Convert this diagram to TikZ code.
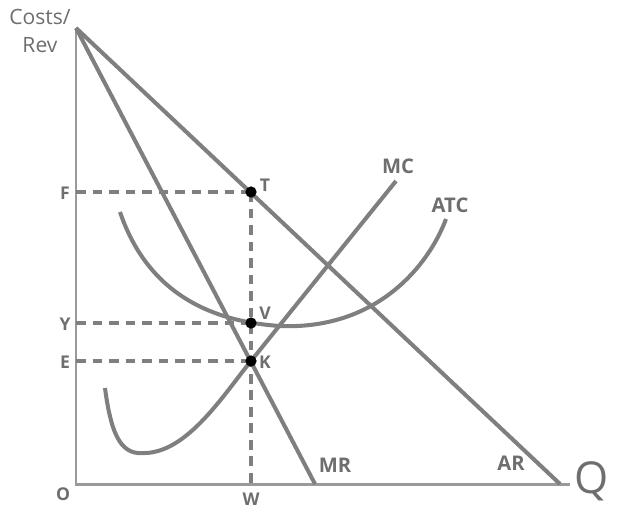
\documentclass[tikz,border=0pt]{standalone}
\usepackage{fontspec}
\setmainfont{Open Sans}
\usetikzlibrary{positioning,calc}
\definecolor{curvegray}{HTML}{7F7F7F}
\definecolor{axisgray}{HTML}{9A9A9A}
\definecolor{textgray}{HTML}{6E6E6E}
\tikzset{
  every picture/.style={line width=0.75pt},
  curve/.style={curvegray, line width=2.3pt},
  guide/.style={curvegray, line width=1.8pt, dash pattern=on 5.6pt off 3.8pt},
  dot/.style={circle, fill=black, inner sep=0pt, minimum size=6.4pt},
  ptlabel/.style={textgray, font=\fontsize{10}{11}\selectfont\bfseries, inner sep=1pt},
  crvlabel/.style={textgray, font=\fontsize{11.5}{12}\selectfont\bfseries, inner sep=1pt},
}

\begin{document}
\begin{tikzpicture}[x=0.02cm, y=-0.02cm]
    \useasboundingbox (0,0) rectangle (628,512);

    % Axes
    \coordinate (top) at (76,28);
    \coordinate (orig) at (76,484);
    \coordinate (qend) at (570,484);
    \draw[axisgray, line width=1.7pt] (top) -- (orig) -- (qend);
    \node[textgray, font=\fontsize{12}{15.5}\selectfont, align=center] (axy) at (40,31) {Costs/\\Rev};
    \node[textgray, font=\fontsize{25}{26}\selectfont, inner sep=0pt] (axq) at (592,481) {Q};

    % Demand (AR) and marginal revenue (MR)
    \coordinate (arend) at (560,484);
    \coordinate (mrend) at (315,484);
    \draw[curve] (top) -- (arend);
    \draw[curve] (top) -- (mrend);

    % Marginal cost
    \draw[curve] (105,388) .. controls (112,442) and (124,455) .. (145,453)
        .. controls (188,452) and (224,394) .. (251,361)
        .. controls (300,300) and (350,238) .. (396,181);

    % Average total cost
    \draw[curve] (120,212) .. controls (150,300) and (220,322) .. (280,326)
        .. controls (380,330) and (430,262) .. (446,219);

    % Guides
    \coordinate (pT) at (251,192);
    \coordinate (pV) at (251,323);
    \coordinate (pK) at (251,361);
    \coordinate (F) at (76,192);
    \coordinate (Y) at (76,323);
    \coordinate (E) at (76,361);
    \coordinate (W) at (251,484);
    \draw[guide] (F) -- (pT);
    \draw[guide] (Y) -- (pV);
    \draw[guide] (E) -- (pK);
    \draw[guide] (pT) -- (W);

    % Points
    \node[dot] (T) at (pT) {};
    \node[dot] (V) at (pV) {};
    \node[dot] (K) at (pK) {};

    % Labels
    \node[ptlabel] (lF) at (65,193) {F};
    \node[ptlabel] (lY) at (65,324) {Y};
    \node[ptlabel] (lE) at (65,362) {E};
    \node[ptlabel] (lO) at (63,494) {O};
    \node[ptlabel] (lW) at (251,499) {W};
    \node[ptlabel] (lT) at (265,185) {T};
    \node[ptlabel] (lV) at (265,313) {V};
    \node[ptlabel] (lK) at (265,362) {K};
    \node[crvlabel] (lMC) at (398,166) {MC};
    \node[crvlabel] (lATC) at (450,205) {ATC};
    \node[crvlabel] (lMR) at (335,465) {MR};
    \node[crvlabel] (lAR) at (511,463) {AR};
\end{tikzpicture}
\end{document}
